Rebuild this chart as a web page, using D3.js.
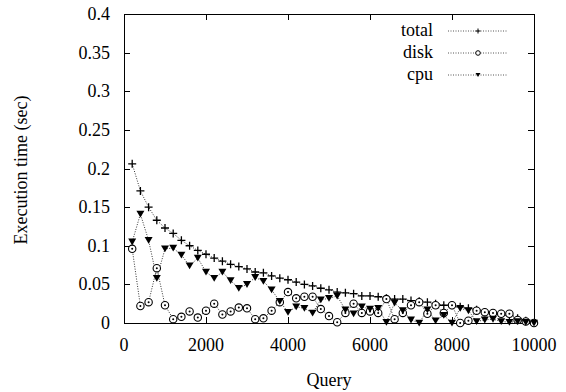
<!DOCTYPE html>
<html><head><meta charset="utf-8">
<script src="https://cdn.jsdelivr.net/npm/d3@7"></script>
<style>body{margin:0;background:#fff}svg{display:block}text{font-family:"Liberation Serif","Times New Roman",serif;fill:#000}</style>
</head><body><svg id="c" width="566" height="392"></svg>
<script>
const queries = d3.range(1, 51).map(i => i * 200);
const total = [0.206,0.171,0.150,0.133,0.123,0.116,0.107,0.100,0.094,0.089,
  0.084,0.080,0.076,0.073,0.070,0.066,0.065,0.061,0.058,0.056,
  0.053,0.050,0.048,0.045,0.043,0.040,0.039,0.038,0.035,0.035,
  0.034,0.032,0.031,0.031,0.029,0.028,0.027,0.025,0.023,0.023,
  0.021,0.019,0.017,0.014,0.013,0.012,0.010,0.006,0.003,0.000];
const disk = [0.096,0.022,0.027,0.071,0.023,0.005,0.008,0.015,0.007,0.016,
  0.025,0.011,0.015,0.020,0.019,0.005,0.006,0.016,0.027,0.040,
  0.032,0.034,0.034,0.018,0.009,0.001,0.013,0.025,0.013,0.015,
  0.013,0.031,0.005,0.013,0.023,0.027,0.012,0.023,0.013,0.023,
  0.000,0.003,0.016,0.014,0.013,0.012,0.012,0.004,0.002,0.000];
const cpu = [0.105,0.141,0.107,0.058,0.096,0.097,0.088,0.074,0.084,0.066,
  0.058,0.066,0.055,0.045,0.050,0.059,0.054,0.043,0.028,0.014,
  0.021,0.019,0.013,0.030,0.032,0.035,0.017,0.012,0.021,0.018,
  0.019,0.001,0.026,0.016,0.004,0.000,0.017,0.003,0.010,0.000,
  0.019,0.016,0.002,0.004,0.005,0.002,0.001,0.002,0.001,0.000];
const xTicks = [0,2000,4000,6000,8000,10000];
const yTicks = [0,0.05,0.1,0.15,0.2,0.25,0.3,0.35,0.4];
const seriesNames = ["total","disk","cpu"];

const L=124,R=534,T=14,B=323;
const svg=d3.select("#c");
const x=d3.scaleLinear().domain([0,10000]).range([L,R]);
const y=d3.scaleLinear().domain([0,0.4]).range([B,T]);
const fs=18;

const tk=6;
const g=svg.append("g").attr("stroke","#000").attr("stroke-width",1);
xTicks.forEach(v=>{
  const px=Math.round(x(v))+0.5;
  g.append("line").attr("x1",px).attr("x2",px).attr("y1",B).attr("y2",B-tk);
  g.append("line").attr("x1",px).attr("x2",px).attr("y1",T).attr("y2",T+tk);
});
yTicks.forEach(v=>{
  const py=Math.round(y(v))+0.5;
  g.append("line").attr("x1",L).attr("x2",L+tk).attr("y1",py).attr("y2",py);
  g.append("line").attr("x1",R).attr("x2",R-tk).attr("y1",py).attr("y2",py);
});
svg.append("rect").attr("x",L+0.5).attr("y",T+0.5).attr("width",R-L).attr("height",B-T)
  .attr("fill","none").attr("stroke","#000").attr("stroke-width",1);

xTicks.forEach(v=>{
  svg.append("text").attr("x",x(v)).attr("y",B+28).attr("text-anchor","middle")
    .attr("font-size",fs).text(String(v));
});
yTicks.forEach(v=>{
  svg.append("text").attr("x",L-14).attr("y",y(v)+6).attr("text-anchor","end")
    .attr("font-size",fs).text(String(v));
});
svg.append("text").attr("x",(L+R)/2).attr("y",386).attr("text-anchor","middle")
  .attr("font-size",fs).text("Query");
svg.append("text").attr("transform","translate(27,170) rotate(-90)").attr("text-anchor","middle")
  .attr("font-size",fs).text("Execution time (sec)");

const data={total,disk,cpu};
const line=d3.line().x((d,i)=>x(queries[i])).y(d=>y(d));
function marker(sel,name,cx,cy){
  if(name==="total"){
    sel.append("path").attr("d",`M${cx-4},${cy}H${cx+4}M${cx},${cy-4}V${cy+4}`)
      .attr("stroke","#000").attr("stroke-width",1.3).attr("fill","none");
  } else if(name==="disk"){
    sel.append("circle").attr("cx",cx).attr("cy",cy).attr("r",3.7).attr("fill","#fff")
      .attr("stroke","#000").attr("stroke-width",1.1);
    sel.append("circle").attr("cx",cx).attr("cy",cy).attr("r",1).attr("fill","#000");
  } else {
    sel.append("path").attr("d",`M${cx-4},${cy-3.3}L${cx+4},${cy-3.3}L${cx},${cy+3.5}Z`).attr("fill","#000");
  }
}
seriesNames.forEach(n=>{
  svg.append("path").datum(data[n]).attr("d",line).attr("fill","none")
    .attr("stroke","#333").attr("stroke-width",1).attr("stroke-dasharray","1,1.5");
});
seriesNames.forEach(n=>{
  const gg=svg.append("g");
  data[n].forEach((v,i)=>marker(gg,n,x(queries[i]),y(v)));
});

const ly=[31,53,75];
seriesNames.forEach((n,i)=>{
  svg.append("text").attr("x",433).attr("y",ly[i]+5).attr("text-anchor","end")
    .attr("font-size",fs).text(n);
  svg.append("line").attr("x1",448).attr("x2",508).attr("y1",ly[i]).attr("y2",ly[i])
    .attr("stroke","#555").attr("stroke-width",1).attr("stroke-dasharray","1,1.5");
  const gg=svg.append("g");
  if(n==="disk"){
    gg.append("circle").attr("cx",478).attr("cy",ly[i]).attr("r",2.3).attr("fill","#fff").attr("stroke","#000");
  } else if(n==="total"){
    gg.append("path").attr("d",`M475.5,${ly[i]}H480.5M478,${ly[i]-2.5}V${ly[i]+2.5}`).attr("stroke","#000");
  } else {
    gg.append("path").attr("d",`M475.5,${ly[i]-2}L480.5,${ly[i]-2}L478,${ly[i]+2}Z`).attr("fill","#000");
  }
});
</script></body></html>
